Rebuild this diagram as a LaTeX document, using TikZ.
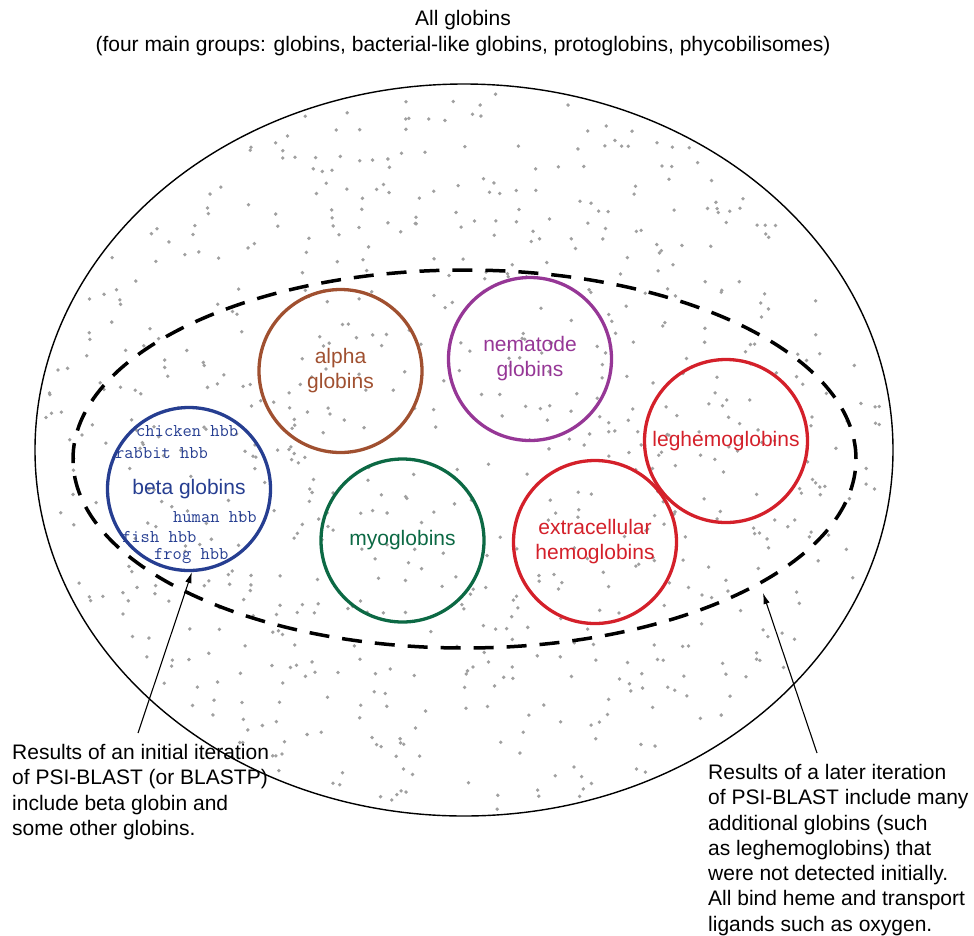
\documentclass[tikz,border=0pt]{standalone}
\usepackage{fontspec}
\setmainfont{Liberation Sans}
\usetikzlibrary{shapes.geometric,arrows.meta}
\definecolor{alphacol}{RGB}{160,80,48}
\definecolor{nemacol}{RGB}{150,55,150}
\definecolor{redcol}{RGB}{212,32,42}
\definecolor{myocol}{RGB}{12,105,68}
\definecolor{betacol}{RGB}{38,62,145}
\definecolor{dotcol}{RGB}{160,160,160}
\begin{document}
\begin{tikzpicture}[x=1pt,y=-1pt,
  txt/.style={font=\fontsize{21}{25.3}\selectfont, inner sep=0pt, align=left},
  globe/.style={circle, line width=3.3pt, minimum size=163pt, inner sep=0pt, align=center, font=\fontsize{21}{25}\selectfont},
  hbb/.style={font=\ttfamily\fontsize{18}{18}\selectfont, text=betacol, inner sep=0pt, anchor=west},
  arr/.style={line width=1.1pt, -{Latex[length=11pt,width=6.5pt]}}]
\useasboundingbox (0,0) rectangle (974,935);
% stipple
\pgfmathsetseed{2024}
\foreach \i in {1,...,760}{
  \pgfmathsetmacro{\rr}{sqrt(rnd)*0.985}
  \pgfmathsetmacro{\aa}{360*rnd}
  \fill[dotcol] ({464+429*\rr*cos(\aa)},{450+366*\rr*sin(\aa)}) circle[radius=1.9pt];
}
% outer ellipse
\node[draw, ellipse, line width=1.4pt, minimum width=858pt, minimum height=732pt, inner sep=0pt] (all) at (464,450) {};
% dashed ellipse
\node[draw, ellipse, line width=3.5pt, dash pattern=on 20pt off 13pt, minimum width=783pt, minimum height=378pt, inner sep=0pt] (later) at (464.5,459) {};
% title
\node[txt, align=center] (title) at (463,33) {All globins\\(four main groups: globins, bacterial-like globins, protoglobins, phycobilisomes)};
% circles
\node[globe, draw=alphacol, text=alphacol] (alpha) at (340.5,371) {alpha\\globins};
\node[globe, draw=nemacol, text=nemacol] (nema) at (530,359) {nematode\\globins};
\node[globe, draw=redcol, text=redcol] (leg) at (726,441) {leghemoglobins};
\node[globe, draw=redcol, text=redcol] (extra) at (595,542) {extracellular\\hemoglobins};
\node[globe, draw=myocol, text=myocol] (myo) at (402.5,540.5) {myoglobins};
\node[globe, draw=betacol, text=betacol] (beta) at (189,489) {beta globins};
% beta members
\node[hbb] (chicken) at (136,431) {chicken hbb};
\node[hbb] (rabbit) at (115,453) {rabbit hbb};
\node[hbb] (human) at (173,517) {human hbb};
\node[hbb] (fish) at (122,537) {fish hbb};
\node[hbb] (frog) at (154,556) {frog hbb};
% notes
\node[txt, anchor=north west] (initial) at (12,744) {Results of an initial iteration\\of PSI-BLAST (or BLASTP)\\include beta globin and\\some other globins.};
\node[txt, anchor=north west] (latertxt) at (708,764) {Results of a later iteration\\of PSI-BLAST include many\\additional globins (such\\as leghemoglobins) that\\were not detected initially.\\All bind heme and transport\\ligands such as oxygen.};
% arrows
\coordinate (ltail) at (138,733);
\coordinate (rtail) at (817,753);
\coordinate (rtip) at (763,593);
\draw[arr] (ltail) -- (beta.-88);
\draw[arr] (rtail) -- (rtip);
\end{tikzpicture}
\end{document}
